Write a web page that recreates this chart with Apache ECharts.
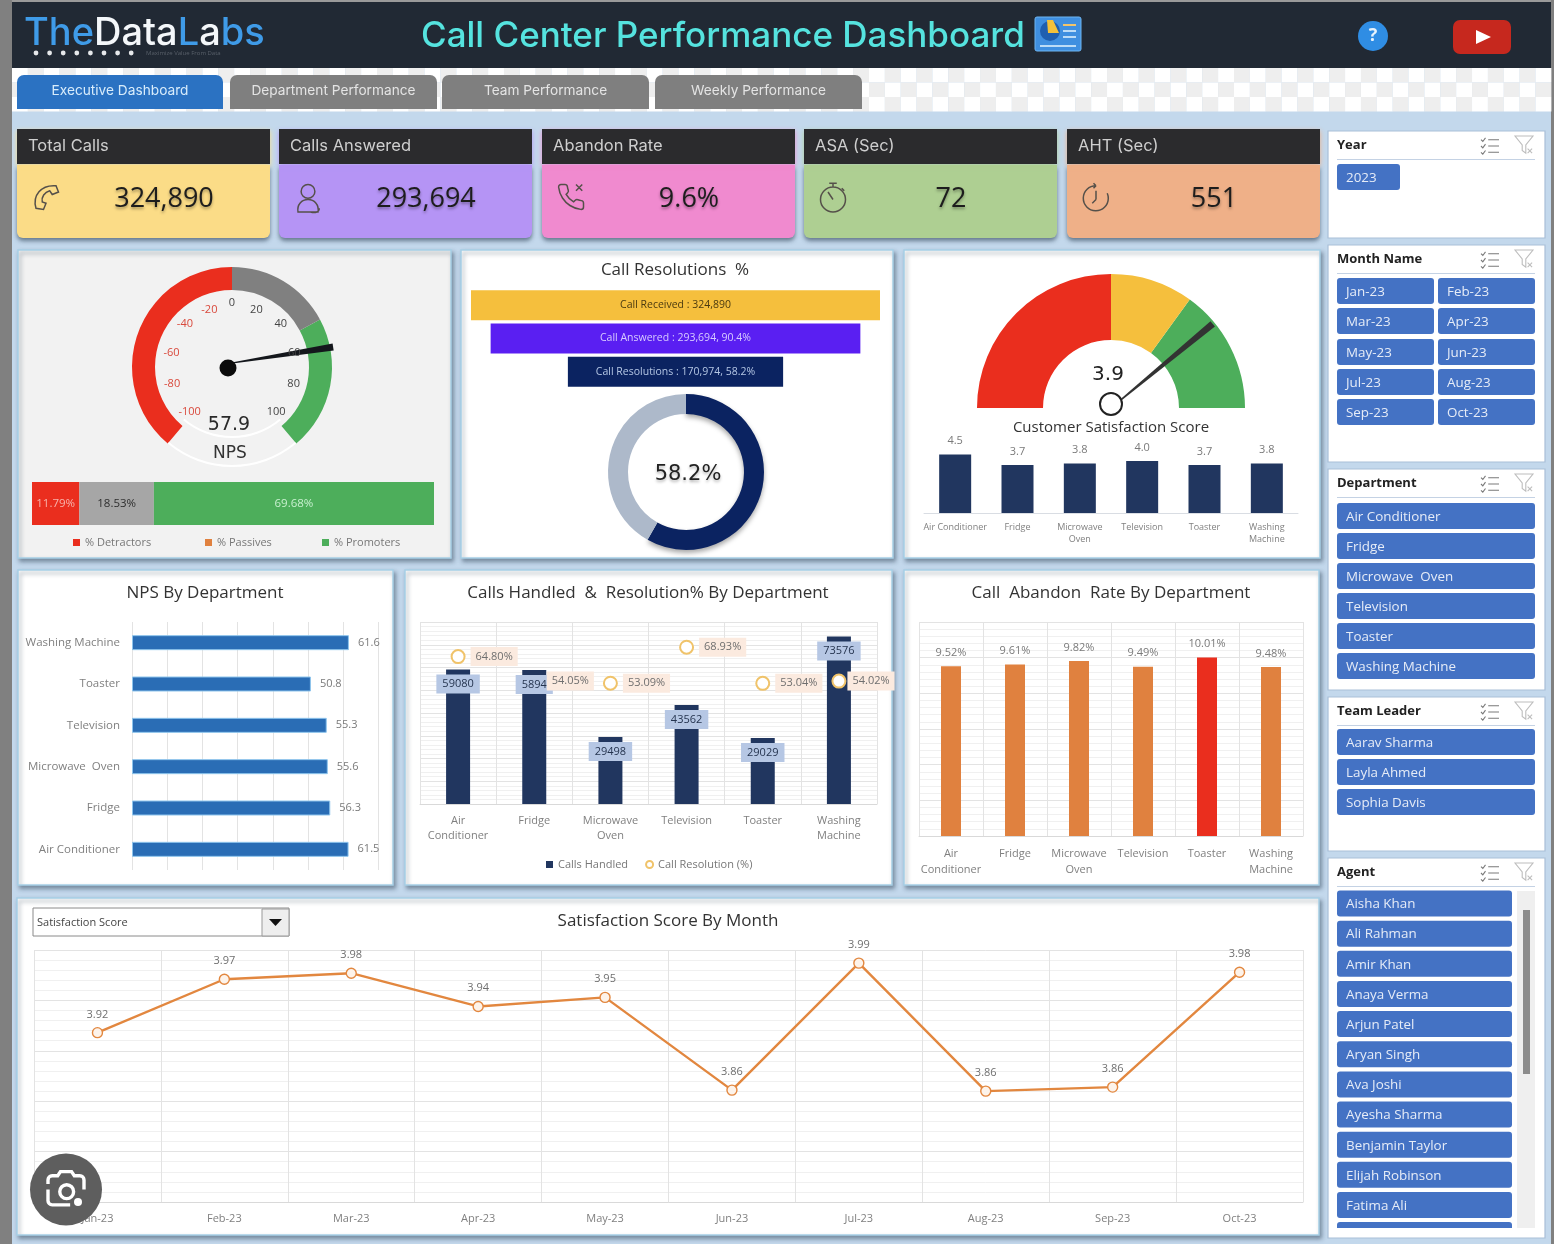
<!DOCTYPE html>
<html>
<head>
<meta charset="utf-8">
<title>Call Center Performance Dashboard</title>
<script src="https://cdn.jsdelivr.net/npm/echarts@6/dist/echarts.min.js"></script>
<style>
  html, body { margin: 0; padding: 0; background: #c3d8ec; }
  #main { width: 1554px; height: 1244px; }
</style>
</head>
<body>
<div id="main"></div>
<script>
// ---- data ----
var tabNames = ["Executive Dashboard", "Department Performance", "Team Performance", "Weekly Performance"];
var kpiNames = ["Total Calls", "Calls Answered", "Abandon Rate", "ASA (Sec)", "AHT (Sec)"];
var kpiValues = ["324,890", "293,694", "9.6%", "72", "551"];

var departments = ["Air Conditioner", "Fridge", "Microwave  Oven", "Television", "Toaster", "Washing Machine"];
var npsScore = 57.9;
var npsDetractors = 11.79, npsPassives = 18.53, npsPromoters = 69.68;
var funnelNames = ["Call Received", "Call Answered", "Call Resolutions"];
var funnelValues = [324890, 293694, 170974];
var funnelPct = ["", ", 90.4%", ", 58.2%"];
var resolutionSplit = [58.2, 41.8];
var csatScore = 3.9;
var csatByDept = [4.5, 3.7, 3.8, 4.0, 3.7, 3.8];
var npsByDept = [61.5, 56.3, 55.6, 55.3, 50.8, 61.6];
var callsHandled = [59080, 58940, 29498, 43562, 29029, 73576];
var resolutionPct = [64.80, 54.05, 53.09, 68.93, 53.04, 54.02];
var abandonRate = [9.52, 9.61, 9.82, 9.49, 10.01, 9.48];
var months = ["Jan-23", "Feb-23", "Mar-23", "Apr-23", "May-23", "Jun-23", "Jul-23", "Aug-23", "Sep-23", "Oct-23"];
var monthScore = [3.918, 3.971, 3.977, 3.944, 3.953, 3.861, 3.987, 3.86, 3.864, 3.978];

var teamLeaders = ["Aarav Sharma", "Layla Ahmed", "Sophia Davis"];
var agents = ["Aisha Khan", "Ali Rahman", "Amir Khan", "Anaya Verma", "Arjun Patel", "Aryan Singh", "Ava Joshi",
  "Ayesha Sharma", "Benjamin Taylor", "Elijah Robinson", "Fatima Ali"];

var UI = '"Open Sans", "Noto Sans", sans-serif';
var HEAD = 'Inter, "Noto Sans", sans-serif';
var SLICER = "#4472c4";

// ---- helpers for the static dashboard furniture ----
var els = [];

function box(x, y, w, h, fill, extra) {
  extra = extra || {};
  els.push({
    type: "rect", z: extra.z || 0,
    shape: { x: x, y: y, width: w, height: h, r: extra.r || 0 },
    style: Object.assign({ fill: fill }, extra.style || {}),
    silent: true
  });
}

function label(str, x, y, font, color, align, extra) {
  els.push({
    type: "text", z: (extra && extra.z) || 1,
    style: Object.assign({
      text: str, x: x, y: y + 1, font: font, fill: color,
      textAlign: align || "left", textVerticalAlign: "middle"
    }, (extra && extra.style) || {}),
    silent: true
  });
}

// the graphic component has no plain "path" type, so each icon is registered as a shape
var iconCount = 0;
var iconClasses = {};
function icon(path, x, y, size, native, stroke, lw, z) {
  if (!iconClasses[path]) {
    iconClasses[path] = "dashIcon" + (iconCount++);
    echarts.graphic.registerShape(iconClasses[path], echarts.graphic.extendPath(path, {}));
  }
  els.push({
    type: iconClasses[path], z: z || 1, x: x, y: y, scaleX: size / native, scaleY: size / native,
    style: { fill: "none", stroke: stroke, lineWidth: lw || 1.4, strokeNoScale: true },
    silent: true
  });
}

function panel(x, y, w, h, fill) {
  box(x, y, w, h, fill || "#fff", {
    style: { stroke: "#a6d0e6", lineWidth: 1.5, shadowBlur: 4, shadowOffsetX: 2, shadowOffsetY: 3, shadowColor: "rgba(50,70,90,.5)" }
  });
}

// page frame
box(0, 0, 1554, 1244, "#c3d8ec");
box(0, 0, 12, 1244, "#808080");
box(1551, 0, 3, 1244, "#808080");
box(12, 0, 1539, 2, "#9a9a9a");

// checkerboard strip behind the tabs
for (var cx = 0; cx < 97; cx++) {
  for (var cy = 0; cy < 3; cy++) {
    box(12 + cx * 15.87, 68 + cy * 14.5, 15.87, 14.5, (cx + cy) % 2 ? "#eeeeee" : "#ffffff");
  }
}

// header bar
box(12, 2, 1539, 66, "#212934");
label("{b|The}{w|Data}{b|L}{w|a}{b|bs}", 24, 33, "500 38px " + HEAD, "#fff", "left", {
  style: { rich: {
    b: { fill: "#3f9be8", font: "500 38px " + HEAD },
    w: { fill: "#f4f7fa", font: "500 38px " + HEAD }
  } }
});
for (var d = 0; d < 8; d++) {
  els.push({ type: "circle", z: 1, shape: { cx: 36 + d * 13.6, cy: 53, r: 2.4 }, style: { fill: "#e6e8ea" }, silent: true });
}
label("Maximize Value From Data", 146, 52, "6px " + UI, "#59606a", "left");
label("Call Center Performance Dashboard", 421, 35.5, "500 35px " + HEAD, "#55e3df", "left");

// title badge
box(1035, 17, 46, 34, "#3f8fe0", { r: 2, style: { stroke: "#6fb6f2" } });
els.push({ type: "circle", z: 1, shape: { cx: 1050, cy: 31, r: 10 }, style: { fill: "#1f5fb0" }, silent: true });
els.push({ type: "polygon", z: 1, shape: { points: [[1047, 20], [1053, 20], [1059, 33], [1048, 33]] }, style: { fill: "#f3c13a" }, silent: true });
box(1063, 24, 13, 2, "#f2c46b", { z: 1 });
box(1063, 30, 13, 2, "#bcdcf7", { z: 1 });
box(1063, 36, 13, 2, "#bcdcf7", { z: 1 });
box(1040, 45, 36, 2, "#bcdcf7", { z: 1 });

// help + video buttons
els.push({ type: "circle", z: 1, shape: { cx: 1373, cy: 36, r: 15 }, style: { fill: "#2f8de4" }, silent: true });
label("?", 1373, 35, "bold 18px " + UI, "#e8f3fc", "center");
box(1453, 20, 58, 34, "#c6281e", { r: 7 });
els.push({ type: "polygon", z: 1, shape: { points: [[1476, 30], [1476, 44], [1491, 37]] }, style: { fill: "#fff" }, silent: true });

// tabs
var tabX = [17, 230, 442, 655];
var tabW = [206, 207, 207, 207];
tabNames.forEach(function (t, i) {
  box(tabX[i], 75, tabW[i], 34, i === 0 ? "#2b72c2" : "#7f7f7f", { r: [7, 7, 0, 0] });
  label(t, tabX[i] + tabW[i] / 2, 90, "13.7px " + HEAD, i === 0 ? "#d8ecfb" : "#e4e4e4", "center");
});

// KPI cards
var kpiX = [17, 279, 542, 804, 1067];
var kpiColors = ["#fbdc87", "#b594f5", "#f08acf", "#aecf92", "#efb088"];
var kpiIcons = [
  "M4 21C1 11 8 2 20 3L22 8L17 10L15 7C11 8 8 12 9 16L12 17L10 22Z",
  "M12 2a5.5 5.5 0 1 0 0 11a5.5 5.5 0 1 0 0-11zM4 24c-1-6 3-10 8-10s9 4 8 10zM14 24c4 1 7 0 7-3",
  "M22 16.9v3a2 2 0 0 1-2.2 2 19.8 19.8 0 0 1-8.6-3.1 19.5 19.5 0 0 1-6-6 19.8 19.8 0 0 1-3.1-8.7A2 2 0 0 1 4.1 2h3a2 2 0 0 1 2 1.7 12.8 12.8 0 0 0 .7 2.8 2 2 0 0 1-.5 2.1L8.1 9.9a16 16 0 0 0 6 6l1.3-1.3a2 2 0 0 1 2.1-.4 12.8 12.8 0 0 0 2.8.7A2 2 0 0 1 22 16.9zM16 2l5 5M21 2l-5 5",
  "M12 4a10 10 0 1 0 0 20a10 10 0 1 0 0-20zM9 1h6M12 1v3M12 14L8 8M19 5l2 2",
  "M12 3a10 10 0 1 0 9 6M12 3l-2-2M12 3l-2 2M12 14V7M12 14l-3 3"
];
kpiNames.forEach(function (k, i) {
  var x = kpiX[i];
  box(x, 165, 253, 73, kpiColors[i], { r: [0, 0, 6, 6], style: { shadowBlur: 4, shadowOffsetY: 3, shadowColor: "rgba(40,60,80,.6)" } });
  box(x, 129, 253, 35, "#2b2b2d", { style: { shadowBlur: 5, shadowOffsetY: 2, shadowColor: kpiColors[i] } });
  label(k, x + 11, 145.5, "16.5px " + HEAD, "#cfcfcf", "left");
  label(kpiValues[i], x + 147, 198.5, "27px " + UI, "#1d1d1d", "center", {
    style: { textShadowBlur: 3, textShadowOffsetY: 2, textShadowColor: "rgba(0,0,0,.35)" }
  });
  icon(kpiIcons[i], x + 14, 182, 30, 24, "#55504a", 1.5);
});

// chart panels
panel(18, 250, 433, 308, "#f2f2f2");
panel(461, 250, 432, 308);
panel(904, 250, 416, 308);
panel(18, 570, 375, 315);
panel(405, 570, 487, 315);
panel(904, 570, 415, 315);
panel(17, 898, 1302, 337);

var titleFont = "17px " + UI;
label("Call Resolutions  %", 675, 269.5, titleFont, "#333", "center");
label("NPS By Department", 205, 592.5, titleFont, "#333", "center");
label("Calls Handled  &  Resolution% By Department", 648, 592.5, titleFont, "#333", "center");
label("Call  Abandon  Rate By Department", 1111, 592.5, titleFont, "#333", "center");
label("Satisfaction Score By Month", 668, 920.5, titleFont, "#333", "center");
label("Customer Satisfaction Score", 1111, 427, "15px " + UI, "#333", "center");
label(resolutionSplit[0].toFixed(1) + "%", 688, 474, "21px 'DejaVu Sans'", "#222", "center", {
  style: { textShadowBlur: 3, textShadowOffsetY: 2, textShadowColor: "rgba(0,0,0,.3)" }
});

// metric dropdown
box(33, 908, 256, 28, "#fff", { style: { stroke: "#8a8a8a" } });
box(262, 909, 27, 27, "#eeeeee", { style: { stroke: "#999" } });
els.push({ type: "polygon", z: 1, shape: { points: [[269, 919], [282, 919], [275.5, 926]] }, style: { fill: "#111" }, silent: true });
label("Satisfaction Score", 37, 922, "11px " + UI, "#444", "left");

// slicers
var LIST_ICON = "M0 3l2 2l3-4M8 3H20M0 10l2 2l3-4M8 10H20M0 17l2 2l3-4M8 17H20";
var FILTER_ICON = "M0 0H20L12 10V19L8 16V10ZM14 14l5 5M19 14l-5 5";

function slicer(title, y, h) {
  box(1328, y, 217, h, "#fff", { style: { stroke: "#a9bfd8", lineWidth: 1.2 } });
  label(title, 1337, y + 13.5, "bold 13px " + UI, "#222", "left");
  box(1337, y + 28, 198, 1, "#c4d2e4");
  icon(LIST_ICON, 1481, y + 6, 18, 20, "#7a7a7a", 1.1);
  icon(FILTER_ICON, 1515, y + 5, 18, 20, "#bdbdbd", 1.1);
}

function chip(str, x, cy, w, h) {
  box(x, cy - h / 2, w, h, SLICER, { r: 3 });
  label(str, x + 9, cy, "13.4px " + UI, "#e6ecf7", "left");
}

slicer("Year", 131, 107);
chip("2023", 1337, 177, 63, 26);

slicer("Month Name", 245, 217);
var monthRows = [291, 321, 352, 382, 412];
months.forEach(function (m, i) {
  chip(m, i % 2 ? 1438 : 1337, monthRows[Math.floor(i / 2)], 97, 26);
});

slicer("Department", 469, 221);
departments.forEach(function (dep, i) {
  chip(dep, 1337, 516 + i * 30, 198, 26);
});

slicer("Team Leader", 697, 154);
teamLeaders.forEach(function (t, i) {
  chip(t, 1337, 742 + i * 30, 198, 26);
});

slicer("Agent", 858, 380);
box(1517, 891, 18, 337, "#efefef");
box(1523, 910, 7, 164, "#8c8c8c");
agents.forEach(function (a, i) {
  chip(a, 1337, 903.5 + i * 30.15, 175, 26);
});
box(1337, 1222, 175, 6, SLICER, { r: [3, 3, 0, 0] });

// image-search badge sitting on top of the screenshot
els.push({ type: "circle", z: 60, shape: { cx: 66, cy: 1189.5, r: 36 }, style: { fill: "#5e5e5e" }, silent: true });
icon("M0 8V5a3 3 0 0 1 3-3h4l2-3h8l2 3h4a3 3 0 0 1 3 3v7M0 12v8a3 3 0 0 0 3 3h13M8.5 13.5a5 5 0 1 0 10 0a5 5 0 1 0-10 0", 48, 1173, 36, 26, "#fff", 3.4, 61);
els.push({ type: "circle", z: 61, shape: { cx: 78, cy: 1202, r: 4 }, style: { fill: "#fff" }, silent: true });

// ---- axes and series ----
var axisText = { color: "#808080", fontFamily: UI, fontSize: 11, interval: 0 };
var softLine = { show: true, lineStyle: { color: "#e3e3e3", width: 1 } };
var softMinor = { show: true, lineStyle: { color: "#f0f0f0", width: 1 } };
var hidden = { show: false };
var wrap = function (v) { return v.replace(/\s+/, "\n"); };

var grids = [
  { left: 32, top: 482, width: 402, height: 43 },     // NPS split
  { left: 471, top: 288.5, width: 409, height: 100 }, // funnel
  { left: 924, top: 435, width: 374, height: 78 },    // csat bars
  { left: 132, top: 622, width: 246.5, height: 248 }, // NPS by dept
  { left: 420, top: 622, width: 457, height: 182 },   // calls handled
  { left: 919, top: 622, width: 384, height: 214 },   // abandon
  { left: 34, top: 950, width: 1269, height: 252 }    // monthly score
];

var xAxes = [
  { gridIndex: 0, type: "value", min: 0, max: 100, show: false },
  { gridIndex: 1, type: "value", min: 0, max: funnelValues[0], show: false },
  { gridIndex: 2, type: "category", data: departments, axisTick: hidden,
    axisLine: { lineStyle: { color: "#d9dde3" } },
    axisLabel: Object.assign({}, axisText, { fontSize: 9, lineHeight: 12, margin: 8, formatter: function (v) { return v === departments[0] ? v : wrap(v); } }) },
  { gridIndex: 3, type: "value", min: 0, max: 70, interval: 10, axisLabel: hidden, axisLine: hidden, axisTick: hidden, splitLine: softLine },
  { gridIndex: 4, type: "category", data: departments, axisTick: hidden,
    axisLine: { lineStyle: { color: "#d9d9d9" } }, splitLine: softLine,
    axisLabel: Object.assign({}, axisText, { lineHeight: 15, margin: 9, formatter: wrap }) },
  { gridIndex: 5, type: "category", data: departments, axisTick: hidden,
    axisLine: { lineStyle: { color: "#d9d9d9" } }, splitLine: softLine,
    axisLabel: Object.assign({}, axisText, { lineHeight: 16, margin: 10, formatter: wrap }) },
  { gridIndex: 6, type: "category", data: months, axisTick: hidden,
    axisLine: { lineStyle: { color: "#d9d9d9" } }, splitLine: softLine,
    axisLabel: Object.assign({}, axisText, { margin: 11 }) }
];

var yAxes = [
  { gridIndex: 0, type: "category", data: ["NPS"], show: false },
  { gridIndex: 1, type: "category", data: funnelNames, inverse: true, show: false },
  { gridIndex: 2, type: "value", min: 0, max: 6, show: false },
  { gridIndex: 3, type: "category", data: departments, axisTick: hidden,
    axisLine: hidden, axisLabel: Object.assign({}, axisText, { fontSize: 11.5, margin: 12 }) },
  { gridIndex: 4, type: "value", min: 0, max: 80000, interval: 10000, axisLabel: hidden, axisLine: hidden, axisTick: hidden,
    splitLine: softLine, minorTick: hidden, minorSplitLine: softMinor },
  { gridIndex: 5, type: "value", min: 0, max: 12, interval: 2, axisLabel: hidden, axisLine: hidden, axisTick: hidden,
    splitLine: softLine, minorTick: hidden, minorSplitLine: softMinor },
  { gridIndex: 6, type: "value", min: 3.75, max: 4, interval: 0.05, axisLabel: hidden, axisLine: hidden, axisTick: hidden,
    splitLine: softLine, minorTick: hidden, minorSplitLine: softMinor },
  { gridIndex: 4, type: "value", min: 0, max: 80, show: false, splitLine: hidden }
];

function splitBar(name, value, color, textColor) {
  return {
    name: name, type: "bar", xAxisIndex: 0, yAxisIndex: 0, stack: "nps", barWidth: 43,
    data: [value], itemStyle: { color: color },
    label: { show: true, position: "inside", color: textColor, fontFamily: UI, fontSize: 11.5,
      formatter: function (p) { return p.value.toFixed(2) + "%"; } }
  };
}

var funnelColors = ["#f5bf3d", "#5a1ff2", "#0b2361"];
var funnelTextColors = ["#4a3a10", "#d8ccff", "#b4c6e4"];

var series = [
  splitBar("% Detractors", npsDetractors, "#ea2e1e", "#f7b3ab"),
  splitBar("% Passives", npsPassives, "#a6a6a6", "#2e2e2e"),
  splitBar("% Promoters", npsPromoters, "#4dae5b", "#c8f0cf"),
  // NPS dial: the needle hub sits a little left of the ring in the original
  {
    type: "gauge", center: [232, 367], radius: 100, min: -100, max: 100, startAngle: 230, endAngle: -50, splitNumber: 10,
    axisLine: { lineStyle: { width: 23, color: [[0.5, "#ea2e1e"], [0.72, "#808080"], [1, "#4dae5b"]] } },
    axisTick: hidden, splitLine: hidden, axisLabel: hidden,
    pointer: { icon: "path://M-6 0L6 0L1 100L-1 100Z", length: 104, width: 7, offsetCenter: [-4, 1], itemStyle: { color: "#14171c" } },
    anchor: { show: true, size: 17, showAbove: true, offsetCenter: [-4, 1], itemStyle: { color: "#0b0b0b" } },
    title: { offsetCenter: [-2, 87], color: "#333", fontSize: 17, fontFamily: "'DejaVu Sans'" },
    detail: { offsetCenter: [-3, 58], color: "#2a2a2a", fontSize: 19, fontWeight: "normal", fontFamily: "'DejaVu Sans'", formatter: "{value}" },
    data: [{ value: npsScore, name: "NPS" }]
  },
  // dial numbers run on a tighter sweep than the ring
  {
    type: "gauge", center: [232, 367], radius: 90, min: -100, max: 100, startAngle: 220, endAngle: -40, splitNumber: 10, silent: true,
    axisLine: { show: false, lineStyle: { width: 0 } },
    axisTick: hidden, splitLine: hidden,
    axisLabel: {
      distance: 0, fontSize: 11, fontFamily: UI,
      formatter: function (v) { return v < 0 ? "{neg|" + v + "}" : "{pos|" + v + "}"; },
      rich: { neg: { color: "#d9493c", fontSize: 11 }, pos: { color: "#444", fontSize: 11 } }
    },
    pointer: hidden, title: hidden, detail: hidden, data: []
  },
  // white hairlines closing the NPS dial underneath
  {
    type: "gauge", center: [232, 367], radius: 100, startAngle: -50, endAngle: -130, silent: true,
    axisLine: { lineStyle: { width: 2, color: [[1, "#fff"]] } },
    axisTick: hidden, splitLine: hidden, axisLabel: hidden, pointer: hidden, title: hidden, detail: hidden, data: []
  },
  {
    type: "gauge", center: [232, 362], radius: 76, startAngle: -50, endAngle: -130, silent: true,
    axisLine: { lineStyle: { width: 2, color: [[1, "#fff"]] } },
    axisTick: hidden, splitLine: hidden, axisLabel: hidden, pointer: hidden, title: hidden, detail: hidden, data: []
  },
  // funnel, centred with a clear spacer
  {
    type: "bar", xAxisIndex: 1, yAxisIndex: 1, stack: "funnel", barWidth: 30, silent: true,
    itemStyle: { color: "transparent" },
    data: funnelValues.map(function (v) { return (funnelValues[0] - v) / 2; })
  },
  {
    type: "bar", xAxisIndex: 1, yAxisIndex: 1, stack: "funnel", barWidth: 30,
    data: funnelValues.map(function (v, i) {
      return {
        value: v, itemStyle: { color: funnelColors[i] },
        label: { color: funnelTextColors[i] }
      };
    }),
    label: { show: true, position: "inside", fontFamily: UI, fontSize: 10.5,
      formatter: function (p) { return funnelNames[p.dataIndex] + " : " + p.value.toLocaleString("en-US") + funnelPct[p.dataIndex]; } }
  },
  // resolution donut
  {
    type: "pie", center: [686, 472], radius: [58, 78], startAngle: 90, silent: true, label: hidden, labelLine: hidden,
    data: [
      { value: resolutionSplit[0], itemStyle: { color: "#0b2361", shadowBlur: 5, shadowOffsetY: 3, shadowColor: "rgba(0,0,0,.35)" } },
      { value: resolutionSplit[1], itemStyle: { color: "#adb9ca" } }
    ]
  },
  // CSAT dial
  {
    type: "gauge", center: [1111, 408], radius: 134, min: 0, max: 5, startAngle: 180, endAngle: 0,
    axisLine: { lineStyle: { width: 66, color: [[0.5, "#ea2e1e"], [0.7, "#f5bf3d"], [1, "#4dae5b"]] } },
    axisTick: hidden, splitLine: hidden, axisLabel: hidden,
    pointer: { icon: "path://M-6 0L6 0L1 100L-1 100Z", length: 128, width: 7, offsetCenter: [0, -4], itemStyle: { color: "#333" } },
    anchor: { show: true, showAbove: true, size: 22, offsetCenter: [0, -4], itemStyle: { color: "#fff", borderColor: "#222", borderWidth: 2 } },
    title: hidden,
    detail: { offsetCenter: [-3, -33], color: "#222", fontSize: 20, fontWeight: "normal", fontFamily: "'DejaVu Sans'", formatter: function (v) { return v.toFixed(1); } },
    data: [{ value: csatScore }]
  },
  {
    type: "bar", xAxisIndex: 2, yAxisIndex: 2, barWidth: 32, data: csatByDept,
    itemStyle: { color: "#21365f" },
    label: { show: true, position: "top", distance: 8, color: "#7a7a7a", fontFamily: UI, fontSize: 11,
      formatter: function (p) { return p.value.toFixed(1); } }
  },
  {
    type: "bar", xAxisIndex: 3, yAxisIndex: 3, barWidth: 15, data: npsByDept,
    itemStyle: { color: "#2a6db5", borderColor: "#8dc4ec", borderWidth: 1 },
    label: { show: true, position: "right", distance: 9, color: "#7a7a7a", fontFamily: UI, fontSize: 11,
      formatter: function (p) { return p.value.toFixed(1); } }
  },
  {
    name: "Calls Handled", type: "bar", xAxisIndex: 4, yAxisIndex: 4, barWidth: 24, data: callsHandled,
    itemStyle: { color: "#21365f" },
    label: { show: true, position: "insideTop", distance: 5, color: "#25344f", fontFamily: UI, fontSize: 11,
      backgroundColor: "#b6c7e4", padding: [4, 6], formatter: function (p) { return p.dataIndex === 1 ? String(p.value).slice(0, 4) : p.value; } }
  },
  {
    name: "Call Resolution (%)", type: "line", xAxisIndex: 4, yAxisIndex: 7, z: 4, symbol: "circle", symbolSize: 13,
    lineStyle: { width: 0 },
    itemStyle: { color: "#fff", borderColor: "#f0c36a", borderWidth: 2 },
    data: resolutionPct.map(function (v, i) {
      // Fridge's marker is buried under the bar label in the original; Washing Machine's tag hugs its marker
      if (i === 1) return { value: v, itemStyle: { color: "transparent", borderColor: "transparent" } };
      if (i === 5) return { value: v, label: { distance: 1 } };
      return v;
    }),
    label: { show: true, position: "right", distance: 5, color: "#6f6f6f", fontFamily: UI, fontSize: 11,
      backgroundColor: "#fbeadf", padding: [4, 5], formatter: function (p) { return p.value.toFixed(2) + "%"; } }
  },
  {
    type: "bar", xAxisIndex: 5, yAxisIndex: 5, barWidth: 20,
    data: abandonRate.map(function (v) {
      return { value: v, itemStyle: { color: v > 10 ? "#ea2e1e" : "#e0813f" } };
    }),
    label: { show: true, position: "top", distance: 8, color: "#7a7a7a", fontFamily: UI, fontSize: 11,
      formatter: function (p) { return p.value.toFixed(2) + "%"; } }
  },
  {
    type: "line", xAxisIndex: 6, yAxisIndex: 6, data: monthScore, symbol: "circle", symbolSize: 10,
    lineStyle: { color: "#e2873f", width: 2.4 },
    itemStyle: { color: "#fdf3ea", borderColor: "#e2873f", borderWidth: 1.4 },
    label: { show: true, position: "top", distance: 7, color: "#6f6f6f", fontFamily: UI, fontSize: 11,
      formatter: function (p) { return p.value.toFixed(2); } }
  }
];

var legendText = { color: "#777", fontFamily: UI, fontSize: 11 };
function chipLegend(left, name, color) {
  return {
    left: left, top: 532, selectedMode: false, itemWidth: 7, itemHeight: 7, itemGap: 2, textStyle: legendText,
    data: [{ name: name, icon: "rect", itemStyle: { color: color } }]
  };
}

var chart = echarts.init(document.getElementById("main"), null, { renderer: "canvas" });
chart.setOption({
  animation: false,
  graphic: { elements: els },
  grid: grids,
  xAxis: xAxes,
  yAxis: yAxes,
  legend: [
    chipLegend(68, "% Detractors", "#ea2e1e"),
    chipLegend(200, "% Passives", "#e0813f"),
    chipLegend(317, "% Promoters", "#4dae5b"),
    {
      left: 541, top: 854, selectedMode: false, itemWidth: 7, itemHeight: 7, itemGap: 17, textStyle: legendText,
      data: [
        { name: "Calls Handled", icon: "rect", itemStyle: { color: "#21365f" } },
        { name: "Call Resolution (%)", icon: "circle", itemStyle: { color: "#fff", borderColor: "#f0c36a", borderWidth: 2 } }
      ]
    }
  ],
  series: series
});
</script>
</body>
</html>
